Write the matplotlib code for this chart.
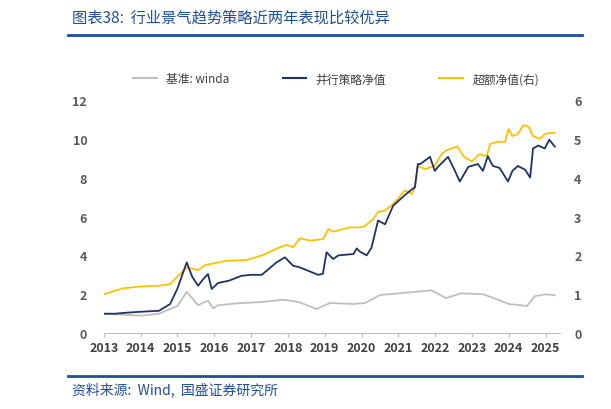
import matplotlib
matplotlib.use("Agg")
import matplotlib.pyplot as plt
from matplotlib.lines import Line2D

plt.rcParams["font.family"] = ["Noto Sans CJK SC"]

title = "图表38:  行业景气趋势策略近两年表现比较优异"
source = "资料来源:  Wind,  国盛证券研究所"
labels = ["基准: winda", "并行策略净值", "超额净值(右)"]
xticks = list(range(2013, 2026))
left_ticks = [0, 2, 4, 6, 8, 10, 12]
right_ticks = [0, 1, 2, 3, 4, 5, 6]

navy_t = [2013.0, 2013.3, 2013.6, 2014.0, 2014.5, 2014.8, 2015.0, 2015.25, 2015.4, 2015.56, 2015.7, 2015.83,
          2015.93, 2016.1, 2016.4, 2016.74, 2017.0, 2017.29, 2017.69, 2017.92, 2018.14, 2018.3, 2018.55, 2018.82,
          2018.95, 2019.05, 2019.23, 2019.37, 2019.78, 2019.87, 2019.95, 2020.14, 2020.27, 2020.45, 2020.64,
          2020.86, 2021.22, 2021.37, 2021.45, 2021.53, 2021.6,
          2021.86, 2021.99, 2022.1, 2022.35, 2022.5, 2022.67, 2022.9, 2023.16, 2023.3, 2023.43, 2023.57, 2023.75,
          2023.98, 2024.1, 2024.25, 2024.45, 2024.58, 2024.66, 2024.8, 2024.98, 2025.1, 2025.25]
navy_v = [1.0, 1.0, 1.05, 1.1, 1.15, 1.5, 2.3, 3.64, 2.9, 2.44, 2.78, 3.04,
          2.27, 2.58, 2.7, 2.95, 3.0, 3.0, 3.64, 3.9, 3.47, 3.4, 3.21, 3.0,
          3.05, 4.16, 3.81, 4.0, 4.07, 4.36, 4.2, 4.0, 4.4, 5.79, 5.6,
          6.56, 7.17, 7.4, 7.5, 8.7, 8.7,
          9.07, 8.35, 8.6, 9.07, 8.5, 7.8, 8.55, 8.7, 8.35, 9.1, 8.6, 8.5,
          7.8, 8.35, 8.6, 8.4, 8.0, 9.5, 9.65, 9.5, 9.95, 9.6]

gold_t = [2013.0, 2013.5, 2014.0, 2014.5, 2014.8, 2015.25, 2015.56, 2015.75, 2016.33, 2016.88, 2017.3, 2017.78,
          2017.96, 2018.14, 2018.33, 2018.6, 2018.96, 2019.1, 2019.23, 2019.68, 2019.96, 2020.09, 2020.32, 2020.45,
          2020.64, 2020.86, 2021.18, 2021.37, 2021.45, 2021.53, 2021.72,
          2021.99, 2022.17, 2022.3, 2022.6, 2022.8, 2023.0, 2023.2, 2023.4, 2023.5, 2023.7, 2023.9, 2024.0,
          2024.1, 2024.25, 2024.4, 2024.55, 2024.66, 2024.85, 2024.98, 2025.1, 2025.25]
gold_v = [1.0, 1.15, 1.2, 1.22, 1.26, 1.69, 1.62, 1.75, 1.86, 1.88, 2.0, 2.21,
          2.27, 2.21, 2.44, 2.38, 2.42, 2.68, 2.61, 2.72, 2.72, 2.75, 2.94, 3.12,
          3.15, 3.32, 3.67, 3.58, 3.75, 4.3, 4.22,
          4.3, 4.6, 4.7, 4.8, 4.52, 4.42, 4.6, 4.55, 4.87, 4.92, 4.92, 5.25,
          5.07, 5.12, 5.35, 5.3, 5.07, 5.0, 5.12, 5.15, 5.15]

grey_t = [2013.0, 2013.5, 2014.0, 2014.5, 2015.0, 2015.25, 2015.56, 2015.83, 2015.97, 2016.1, 2016.74, 2017.3,
          2017.87, 2018.3, 2018.78, 2019.14, 2019.78, 2020.1, 2020.5, 2021.32, 2021.9, 2022.3, 2022.7, 2023.3,
          2023.6, 2024.0, 2024.5, 2024.7, 2025.0, 2025.25]
grey_v = [1.0, 0.95, 0.9, 1.0, 1.4, 2.13, 1.44, 1.67, 1.27, 1.44, 1.55, 1.6,
          1.72, 1.6, 1.24, 1.55, 1.5, 1.55, 1.96, 2.1, 2.2, 1.8, 2.05, 2.0,
          1.8, 1.5, 1.4, 1.9, 2.0, 1.95]

fig = plt.figure(figsize=(6.11, 4.10), dpi=100)
ax = fig.add_axes([0.17, 0.185, 0.747, 0.569])
ax2 = ax.twinx()
NAVY, GOLD, GREY = "#1f3368", "#ffc000", "#bfbfbf"
ax.plot(grey_t, grey_v, color=GREY, lw=1.3)
ax.plot(navy_t, navy_v, color=NAVY, lw=1.3, zorder=3)
ax2.plot(gold_t, gold_v, color=GOLD, lw=1.3)
ax.set_zorder(ax2.get_zorder() + 1); ax.patch.set_visible(False)
ax.set_xlim(2013, 2025.4)
ax.set_ylim(0, 12); ax2.set_ylim(0, 6)
ax.set_yticks(left_ticks); ax2.set_yticks(right_ticks)
ax.set_xticks(xticks)
for a in (ax, ax2):
    for s in ["top", "left", "right"]:
        a.spines[s].set_visible(False)
    a.tick_params(length=0, labelsize=9, labelcolor="#595959")
ax.spines["bottom"].set_color("#bfbfbf")
ax2.spines["bottom"].set_visible(False)
ax.tick_params(axis="x", length=3, direction="out", colors="#bfbfbf", labelcolor="#404040", pad=3)
for t in ax.get_xticklabels() + ax.get_yticklabels() + ax2.get_yticklabels():
    t.set_fontweight("bold")
ax.tick_params(axis="y", pad=12); ax2.tick_params(axis="y", pad=10)

handles = [Line2D([], [], color=c, lw=1.5) for c in (GREY, NAVY, GOLD)]
fig.legend(handles, labels, loc="center", bbox_to_anchor=(0.55, 0.805), ncol=3, frameon=False,
           fontsize=8.5, handlelength=2.0, columnspacing=4.5, labelcolor="#404040")

fig.text(0.118, 0.955, title, color="#1f4e9a", fontsize=11, style="italic", va="center")
fig.add_artist(Line2D([0.112, 0.953], [0.912, 0.912], color="#1f4e9a", lw=2))
fig.add_artist(Line2D([0.112, 0.953], [0.08, 0.08], color="#1f4e9a", lw=2))
fig.text(0.118, 0.048, source, color="#1f4e9a", fontsize=10, style="italic", va="center")
fig.savefig("out.png", dpi=100)
